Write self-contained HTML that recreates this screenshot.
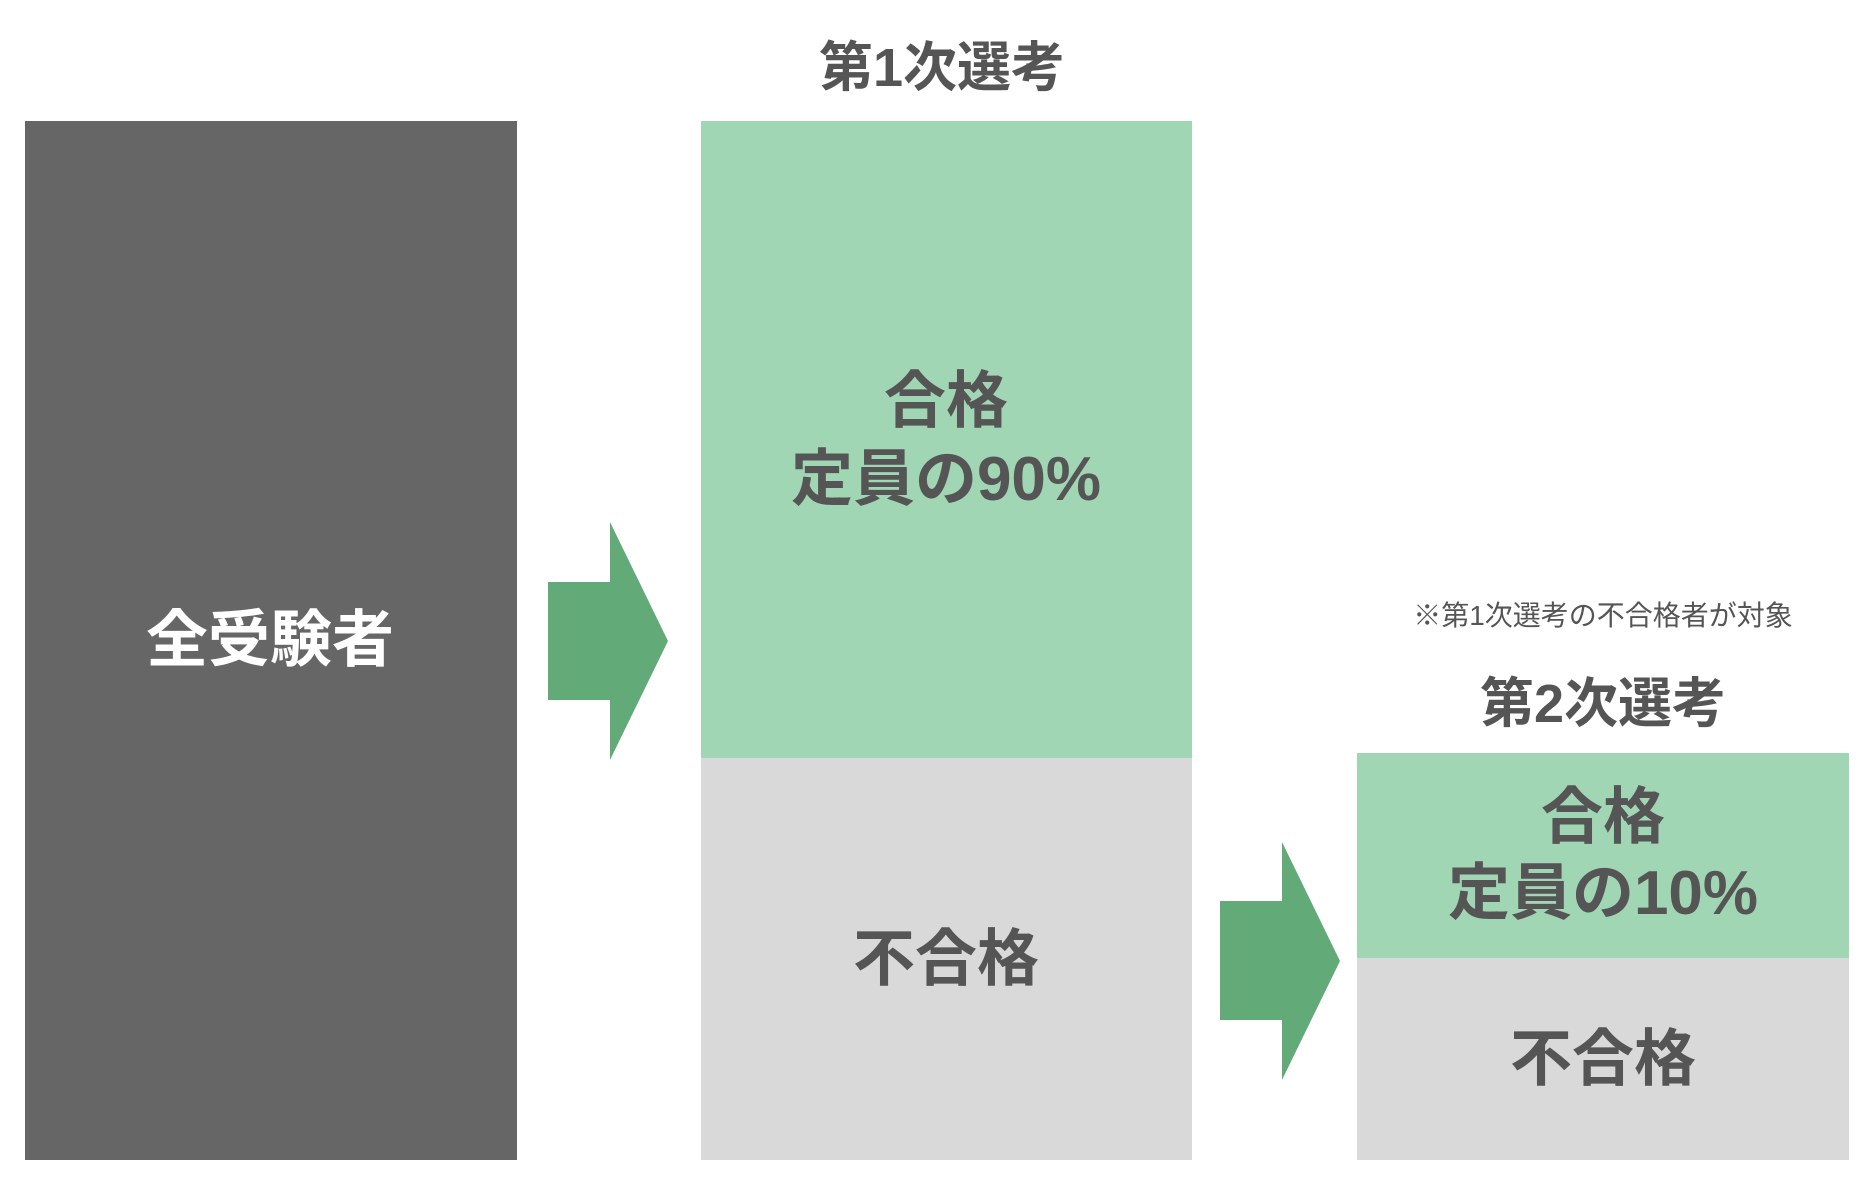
<!DOCTYPE html>
<html><head><meta charset="utf-8"><style>
html,body{margin:0;padding:0;background:#fff;}
body{width:1872px;height:1192px;position:relative;overflow:hidden;font-family:"Liberation Sans","Noto Sans CJK JP",sans-serif;}
.b{position:absolute;}
.t{position:absolute;text-align:center;font-weight:bold;color:#555;line-height:1;white-space:nowrap;transform:translate(-50%,-50%);}
</style></head><body>
<div class="b" style="left:25px;top:121px;width:492px;height:1039px;background:#666;"></div>
<div class="b" style="left:701px;top:121px;width:491px;height:637px;background:#a0d6b4;"></div>
<div class="b" style="left:701px;top:758px;width:491px;height:402px;background:#d9d9d9;"></div>
<div class="b" style="left:1357px;top:753px;width:492px;height:205px;background:#a0d6b4;"></div>
<div class="b" style="left:1357px;top:958px;width:492px;height:202px;background:#d9d9d9;"></div>
<svg class="b" style="left:0;top:0" width="1872" height="1192">
<polygon points="548,582 610,582 610,522 668,641 610,760 610,700 548,700" fill="#62aa78"/>
<polygon points="1220,901 1282,901 1282,842 1340,961 1282,1080 1282,1020 1220,1020" fill="#62aa78"/>
</svg>
<div class="t" style="left:942px;top:68px;font-size:54px;">第1次選考</div>
<div class="t" style="left:1603px;top:704px;font-size:54px;">第2次選考</div>
<div class="t" style="left:1603px;top:616px;font-size:28px;font-weight:normal;color:#555;">※第1次選考の不合格者が対象</div>
<div class="t" style="left:270px;top:641px;font-size:62px;color:#fff;">全受験者</div>
<div class="t" style="left:946px;top:402px;font-size:62px;">合格</div>
<div class="t" style="left:946px;top:480px;font-size:62px;">定員の90%</div>
<div class="t" style="left:946px;top:960px;font-size:62px;">不合格</div>
<div class="t" style="left:1603px;top:818px;font-size:62px;">合格</div>
<div class="t" style="left:1603px;top:894px;font-size:62px;">定員の10%</div>
<div class="t" style="left:1603px;top:1060px;font-size:62px;">不合格</div>
</body></html>
